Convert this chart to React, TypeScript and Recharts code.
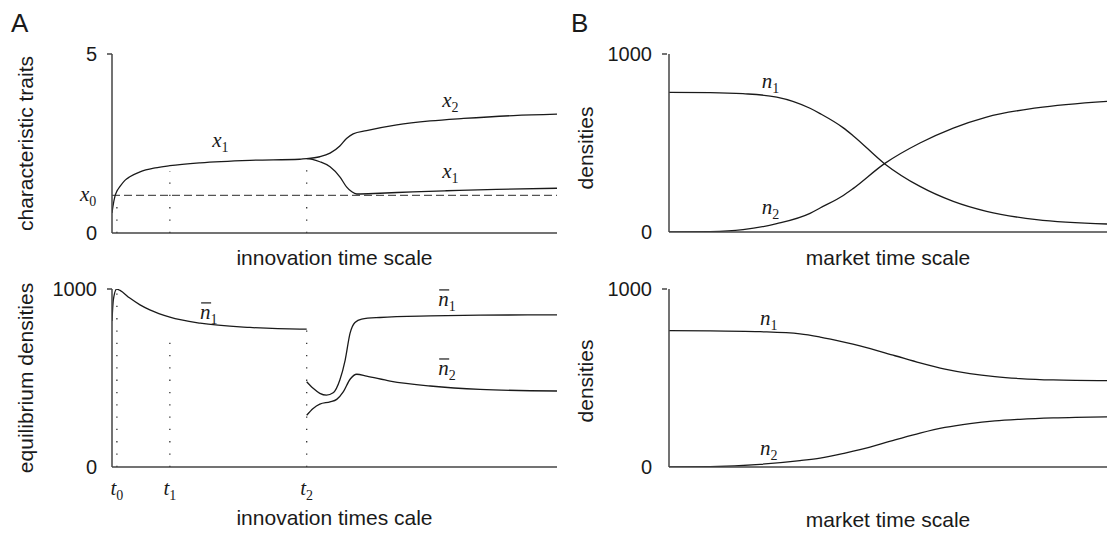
import React from 'react';
import { LineChart, Line, XAxis, YAxis, ReferenceLine, ReferenceDot } from 'recharts';

// A, upper: characteristic traits over innovation time (0-100)
const x1Time = [0, 0.22, 0.67, 1.1, 1.8, 2.9, 4.0, 6.3, 9.7, 13, 19.8, 31, 42.2, 43.75, 46.7, 49, 51.2, 52.7, 53.9, 55, 60.2, 67.6, 75.2, 86.4, 100];
const x1Trait = [0.56, 0.75, 1.03, 1.17, 1.3, 1.47, 1.57, 1.71, 1.82, 1.88, 1.96, 2.03, 2.06, 2.08, 1.99, 1.85, 1.57, 1.29, 1.15, 1.09, 1.11, 1.15, 1.18, 1.22, 1.25];
const x2Time = [43.75, 46.7, 49, 51.2, 52.7, 54.2, 57.2, 64, 71.5, 79, 90.2, 100];
const x2Trait = [2.08, 2.13, 2.23, 2.43, 2.64, 2.77, 2.86, 3.02, 3.13, 3.2, 3.28, 3.32];
const x0Level = 1.05;

// A, lower: equilibrium densities (the n1 branch jumps at t2)
const n1aTime = [0, 0.3, 1.05, 1.8, 4, 6.3, 8.5, 13, 19.8, 31, 42.2, 43.75];
const n1aDensity = [820, 939, 1000, 992, 949, 911, 883, 842, 808, 784, 775, 775];
const n1bTime = [43.75, 45.2, 46.7, 48.2, 49.7, 51.2, 52.4, 53.5, 54.6, 56.1, 60.2, 71.5, 82.7, 100];
const n1bDensity = [479, 442, 414, 404, 417, 489, 601, 752, 812, 831, 840, 849, 853, 855];
const n2Time = [43.75, 45.2, 46.7, 49, 50.5, 52, 53.5, 55, 57.2, 62.5, 71.5, 82.7, 100];
const n2Density = [291, 329, 353, 366, 380, 423, 493, 521, 511, 483, 455, 436, 427];

// innovation times t0, t1, t2 and where their dotted guides stop
const markTimes = [1.1, 13, 43.75];
const markNames = ['0', '1', '2'];
const markTopTrait = [0.9, 1.73, 2.0];
const markTopDensity = [1000, 752, 770];

// B, upper: market time scale
const mktTopTime = [0, 9.4, 16.9, 24.6, 32.2, 34.5, 39.8, 42.1, 49.2, 57.3, 64.9, 72.5, 83.9, 100];
const n1Top = [784, 783, 777, 758, 695, 665, 585, 540, 384, 256, 172, 116, 69, 45];
const n2Top = [0, 2, 13, 47, 105, 135, 205, 245, 384, 500, 584, 646, 697, 734];

// B, lower
const mktBottomTime = [0, 9.4, 20.8, 29.9, 34.5, 40.2, 43.6, 51.6, 57.3, 63, 68.7, 74.4, 80.1, 87.7, 100];
const n1Bottom = [766, 765, 760, 748, 730, 700, 680, 625, 585, 550, 525, 508, 497, 489, 485];
const n2Bottom = [0, 2, 15, 36, 50, 78, 97, 152, 190, 222, 244, 259, 268, 276, 282];

const zip = (ts: number[], vs: number[]) => ts.map((t, i) => ({ t, v: vs[i] }));

const INK = '#1a1a1a';
const AXIS = '#444';
const SANS = "'Liberation Sans', Arial, Helvetica, sans-serif";
const SERIF = "'Liberation Serif', 'Times New Roman', serif";

const MathLabel = ({ cx, cy, base, sub, bar = false, dx = 0, dy = 0, anchor = 'start' }: any) => {
  const x = cx + dx;
  const y = cy + dy;
  return (
    <g>
      <text x={x} y={y} fontFamily={SERIF} fontSize={21} fill={INK} textAnchor={anchor}>
        <tspan fontStyle="italic">{base}</tspan>
        <tspan fontSize={14} dy={5}>{sub}</tspan>
      </text>
      {bar && <line x1={x + 1} x2={x + 11} y1={y - 16} y2={y - 16} stroke={INK} strokeWidth={1.2} />}
    </g>
  );
};

const YTick = ({ x, y, payload }: any) => (
  <g>
    {payload.value !== 0 && <line x1={x + 10} x2={x + 15} y1={y} y2={y} stroke={AXIS} strokeWidth={1.5} />}
    <text x={x} y={y + 7} textAnchor="end" fontFamily={SANS} fontSize={20} fill={INK}>
      {payload.value}
    </text>
  </g>
);

const xTitle = (text: string, drop: number) => (props: any) => {
  const { x, y, width } = props.viewBox;
  return (
    <text x={x + width / 2} y={y + drop} textAnchor="middle" fontFamily={SANS} fontSize={21} fill={INK}>
      {text}
    </text>
  );
};

const yTitle = (text: string, shift = 0) => (props: any) => {
  const { x, y, height } = props.viewBox;
  const cy = y + height / 2 + shift;
  return (
    <text x={x + 33} y={cy} transform={`rotate(-90, ${x + 33}, ${cy})`} textAnchor="middle" fontFamily={SANS} fontSize={21} fill={INK}>
      {text}
    </text>
  );
};

const axisLine = { stroke: AXIS, strokeWidth: 1.5 };
const dotted = { stroke: '#333', strokeWidth: 1.3, strokeDasharray: '1.3 11' };
const curve = { stroke: INK, strokeWidth: 1.3, dot: false, isAnimationActive: false, type: 'monotone' as const };

const label = (x: number, y: number, base: string, sub: string, extra: any = {}) => (
  <ReferenceDot
    x={x}
    y={y}
    r={0}
    ifOverflow="visible"
    shape={(p: any) => <MathLabel cx={p.cx} cy={p.cy} base={base} sub={sub} {...extra} />}
  />
);

export default function App() {
  return (
    <div style={{ position: 'absolute', left: 0, top: 0, width: 1107, height: 535, overflow: 'hidden', background: '#fff' }}>
      <svg width={1107} height={40} style={{ position: 'absolute', left: 0, top: 0 }}>
        <text x={11} y={32} fontFamily={SANS} fontSize={26} fill={INK}>A</text>
        <text x={571} y={32} fontFamily={SANS} fontSize={26} fill={INK}>B</text>
      </svg>

      <div style={{ position: 'absolute', left: 0, top: 0 }}>
        <LineChart width={600} height={270} margin={{ top: 54, right: 43, bottom: 0, left: 0 }}>
          <XAxis type="number" dataKey="t" domain={[0, 100]} ticks={[]} tickLine={false} axisLine={axisLine} height={37} label={xTitle('innovation time scale', 32)} allowDataOverflow />
          <YAxis type="number" domain={[0, 5]} ticks={[0, 5]} width={112} tickLine={false} tickSize={5} tickMargin={10} tick={<YTick />} axisLine={axisLine} label={yTitle('characteristic traits')} allowDataOverflow />
          <ReferenceLine y={x0Level} stroke="#555" strokeWidth={1.4} strokeDasharray="8 4" />
          {markTimes.map((t, i) => (
            <ReferenceLine key={t} segment={[{ x: t, y: 0 }, { x: t, y: markTopTrait[i] }]} {...dotted} ifOverflow="visible" />
          ))}
          <Line data={zip(x1Time, x1Trait)} dataKey="v" {...curve} />
          <Line data={zip(x2Time, x2Trait)} dataKey="v" {...curve} />
          {label(22.5, 2.4, 'x', '1')}
          {label(74.2, 3.53, 'x', '2')}
          {label(74.2, 1.53, 'x', '1')}
          {label(0, x0Level, 'x', '0', { dx: -32, dy: 6 })}
        </LineChart>
      </div>

      <div style={{ position: 'absolute', left: 0, top: 270 }}>
        <LineChart width={600} height={265} margin={{ top: 19, right: 43, bottom: 0, left: 0 }}>
          <XAxis type="number" dataKey="t" domain={[0, 100]} ticks={[]} tickLine={false} axisLine={axisLine} height={68} label={xTitle('innovation times cale', 58)} allowDataOverflow />
          <YAxis type="number" domain={[0, 1000]} ticks={[0, 1000]} width={112} tickLine={false} tickSize={5} tickMargin={10} tick={<YTick />} axisLine={axisLine} label={yTitle('equilibrium densities')} allowDataOverflow />
          {markTimes.map((t, i) => (
            <ReferenceLine key={t} segment={[{ x: t, y: 0 }, { x: t, y: markTopDensity[i] }]} {...dotted} ifOverflow="visible" />
          ))}
          <Line data={zip(n1aTime, n1aDensity)} dataKey="v" {...curve} />
          <Line data={zip(n1bTime, n1bDensity)} dataKey="v" {...curve} />
          <Line data={zip(n2Time, n2Density)} dataKey="v" {...curve} />
          {label(19.8, 832, 'n', '1', { bar: true })}
          {label(73.3, 905, 'n', '1', { bar: true })}
          {label(73.3, 517, 'n', '2', { bar: true })}
          {markTimes.map((t, i) => (
            <React.Fragment key={'l' + t}>{label(t, 0, 't', markNames[i], { anchor: 'middle', dy: 28 })}</React.Fragment>
          ))}
        </LineChart>
      </div>

      <div style={{ position: 'absolute', left: 560, top: 0 }}>
        <LineChart width={547} height={270} margin={{ top: 54, right: 0, bottom: 0, left: 0 }}>
          <XAxis type="number" dataKey="t" domain={[0, 100]} ticks={[]} tickLine={false} axisLine={axisLine} height={38} label={xTitle('market time scale', 33)} allowDataOverflow />
          <YAxis type="number" domain={[0, 1000]} ticks={[0, 1000]} width={109} tickLine={false} tickSize={5} tickMargin={12} tick={<YTick />} axisLine={axisLine} label={yTitle('densities', 5)} allowDataOverflow />
          <Line data={zip(mktTopTime, n1Top)} dataKey="v" {...curve} />
          <Line data={zip(mktTopTime, n2Top)} dataKey="v" {...curve} />
          {label(21.2, 811, 'n', '1')}
          {label(21.2, 103, 'n', '2')}
        </LineChart>
      </div>

      <div style={{ position: 'absolute', left: 560, top: 270 }}>
        <LineChart width={547} height={265} margin={{ top: 19, right: 0, bottom: 0, left: 0 }}>
          <XAxis type="number" dataKey="t" domain={[0, 100]} ticks={[]} tickLine={false} axisLine={axisLine} height={68} label={xTitle('market time scale', 60)} allowDataOverflow />
          <YAxis type="number" domain={[0, 1000]} ticks={[0, 1000]} width={109} tickLine={false} tickSize={5} tickMargin={12} tick={<YTick />} axisLine={axisLine} label={yTitle('densities', 3)} allowDataOverflow />
          <Line data={zip(mktBottomTime, n1Bottom)} dataKey="v" {...curve} />
          <Line data={zip(mktBottomTime, n2Bottom)} dataKey="v" {...curve} />
          {label(20.8, 799, 'n', '1')}
          {label(20.8, 66, 'n', '2')}
        </LineChart>
      </div>
    </div>
  );
}
